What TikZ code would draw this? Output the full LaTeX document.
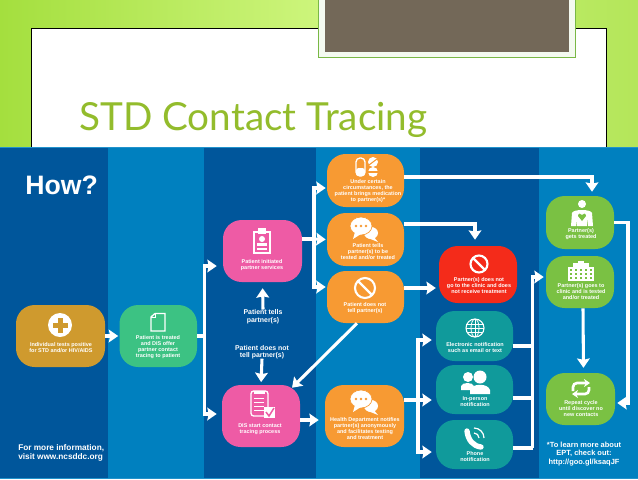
\documentclass[tikz,border=0pt]{standalone}
\usepackage{fontspec}
\usetikzlibrary{arrows.meta,calc}
\setmainfont{Liberation Sans}
\newfontfamily\titlefont{Lato}
\definecolor{title}{HTML}{93BC2C}
\definecolor{brown}{HTML}{736858}
\definecolor{deep}{HTML}{00569B}
\definecolor{sky}{HTML}{0080BF}
\definecolor{gold}{HTML}{CF9A2E}
\definecolor{mint}{HTML}{3CC283}
\definecolor{pink}{HTML}{EE5BA5}
\definecolor{amber}{HTML}{F79A33}
\definecolor{alarm}{HTML}{F42B1A}
\definecolor{teal}{HTML}{109A9B}
\definecolor{leaf}{HTML}{7AC143}
\definecolor{limea}{HTML}{A4DF3E}
\definecolor{limeb}{HTML}{CDF57C}
\definecolor{limec}{HTML}{B4E65A}
\newcommand{\fine}{\fontsize{4.1}{4.5}\selectfont\bfseries}
\newcommand{\midsize}{\fontsize{5.2}{6}\selectfont\bfseries}
\tikzset{
  boxsize/.style 2 args={minimum width=#1*0.75pt,minimum height=#2*0.75pt},
  stepbox/.style={rounded corners=14pt,inner sep=0,draw=none},
  txt/.style={inner sep=0,text=white,align=center,font=\fine},
  say/.style={inner sep=0,text=white,align=center,font=\midsize},
  flow/.style={white,line width=2.3pt},
  arrow/.style={flow,-{Stealth[length=7pt,width=9.5pt,inset=1pt]}},
  icon/.style={white,line width=1pt}
}
\newcommand{\nosign}[2]{\draw[white,line width=1.6pt] (#1) circle (#2); \draw[white,line width=1.6pt] ($(#1)+(-.7*#2,-.7*#2)$) -- ($(#1)+(.7*#2,.7*#2)$);}
\newcommand{\bubbles}[2]{\begin{scope}[shift={(#1)}]
\fill[white] (7,5) ellipse (7 and 6); \fill[white] (9,8) -- (14,14) -- (4,10) -- cycle;
\fill[white,draw=#2,line width=.5pt] (-3,-2) ellipse (11 and 9);
\fill[white] (-9,4) -- (-11,11) -- (-3,6) -- cycle;
\fill[#2] (-8,-2) circle (1.4); \fill[#2] (-3,-2) circle (1.4); \fill[#2] (2,-2) circle (1.4);
\end{scope}}
\begin{document}
\begin{tikzpicture}[x=0.75pt,y=-0.75pt]
\useasboundingbox (0,0) rectangle (638,479);
\shade[left color=limea,right color=limec,middle color=limeb] (0,0) rectangle (638,150);
\draw[black,fill=white,line width=0.8pt] (31.5,28.5) rectangle (606.5,150);
\draw[leaf!90!brown,fill=white!92!leaf,line width=0.6pt] (318.5,-2) rectangle (575.5,57.5);
\fill[brown] (324.5,-2) rectangle (569,51.5);
\node[anchor=base west,inner sep=0,text=title,font=\titlefont\fontsize{29}{29}\selectfont] (heading) at (79,130) {STD Contact Tracing};
\fill[deep] (0,147) rectangle (638,479);
\fill[sky] (108,147) rectangle (203.5,479);
\fill[sky] (316,147) rectangle (420,479);
\fill[sky] (539,147) rectangle (638,479);
\fill[cyan!50!sky] (0,146.5) rectangle (638,148);
\fill[cyan!50!sky] (0,477.5) rectangle (638,479);
\node[anchor=base west,inner sep=0,text=white,font=\fontsize{20}{20}\selectfont\bfseries] (how) at (25,194.5) {How?};
\node[say,align=left,anchor=north west,font=\fontsize{6.2}{7}\selectfont\bfseries] (info) at (18,444) {For more information,\\ visit www.ncsddc.org};
\node[say,font=\fontsize{5.6}{6.6}\selectfont\bfseries] (ept) at (584,454) {*To learn more about\\EPT, check out:\\http://goo.gl/ksaqJF};

\node[stepbox,fill=gold,boxsize={89}{62}] (positive) at (60.5,336) {};
\node[stepbox,fill=mint,boxsize={77.5}{62}] (treated) at (158.25,336) {};
\node[stepbox,fill=pink,boxsize={79}{62}] (initiated) at (262.5,251) {};
\node[stepbox,fill=pink,boxsize={78}{62}] (tracing) at (261,416) {};
\node[stepbox,fill=amber,boxsize={77}{53}] (brings) at (365.5,180.5) {};
\node[stepbox,fill=amber,boxsize={77}{53}] (tells) at (365.5,239.5) {};
\node[stepbox,fill=amber,boxsize={77}{52}] (silent) at (365.5,297) {};
\node[stepbox,fill=amber,boxsize={79}{62}] (notifies) at (364.5,416) {};
\node[stepbox,fill=alarm,boxsize={78}{57}] (refuses) at (478,274.5) {};
\node[stepbox,fill=teal,boxsize={77}{50}] (electronic) at (474.5,336) {};
\node[stepbox,fill=teal,boxsize={77}{49}] (person) at (474.5,389.5) {};
\node[stepbox,fill=teal,boxsize={77}{49}] (phone) at (474.5,444.5) {};
\node[stepbox,fill=leaf,boxsize={68}{53}] (gets) at (580,222.5) {};
\node[stepbox,fill=leaf,boxsize={68}{52}] (clinic) at (580,282) {};
\node[stepbox,fill=leaf,boxsize={69}{52}] (repeat) at (580.5,399) {};

\node[txt] (positivetxt) at (61,347.5) {Individual tests positive\\for STD and/or HIV/AIDS};
\node[txt] (treatedtxt) at (158,347) {Patient is treated\\and DIS offer\\partner contact\\tracing to patient};
\node[txt] (initiatedtxt) at (262,265) {Patient initiated\\partner services};
\node[txt] (tracingtxt) at (260,429) {DIS start contact\\tracing process};
\node[txt] (bringstxt) at (368,191) {Under certain\\circumstances, the\\patient brings medication\\to partner(s)*};
\node[txt] (tellstxt) at (368,252) {Patient tells\\partner(s) to be\\tested and/or treated};
\node[txt] (silenttxt) at (365,308) {Patient does not\\tell partner(s)};
\node[txt] (notifiestxt) at (365,429) {Health Department notifies\\partner(s) anonymously\\and facilitates testing\\and treatment};
\node[txt] (refusestxt) at (479,286) {Partner(s) does not\\go to the clinic and does\\not receive treatment};
\node[txt] (electronictxt) at (475,348) {Electronic notification\\such as email or text};
\node[txt] (persontxt) at (475,402) {In-person\\notification};
\node[txt] (phonetxt) at (475,457) {Phone\\notification};
\node[txt] (getstxt) at (581,234) {Partner(s)\\gets treated};
\node[txt] (clinictxt) at (581,292) {Partner(s) goes to\\clinic and is tested\\and/or treated};
\node[txt] (repeattxt) at (581,409) {Repeat cycle\\until discover no\\new contacts};
\node[say] (toldyes) at (263,317) {Patient tells\\partner(s)};
\node[say,font=\fontsize{5.2}{4.8}\selectfont\bfseries] (toldno) at (262,352) {Patient does not\\tell partner(s)};

\coordinate (busleft) at (204.5,336);
\coordinate (busmid) at (314,239);
\coordinate (busright) at (418,400);
\coordinate (busteal) at (532.5,448);
\coordinate (busfar) at (628,222.5);
\draw[arrow,shorten >=0.8pt] (positive.east) -- (treated.west);
\draw[flow] (treated.east) -- (busleft);
\draw[arrow,shorten >=4.5pt] (busleft) |- ($(initiated.west)+(0,15)$);
\draw[arrow,shorten >=3.8pt] (busleft) |- ($(tracing.west)+(0,-2)$);
\draw[flow] ($(initiated.east)+(0,-12)$) -- (busmid);
\draw[arrow,shorten >=0.8pt] (busmid) |- ($(brings.west)+(0,7.5)$);
\draw[arrow,shorten >=0.8pt] (busmid) -- (tells.west);
\draw[arrow,shorten >=0.8pt] (busmid) |- ($(silent.west)+(0,-10)$);
\draw[arrow,shorten >=3pt] ($(brings.east)+(0,-3.5)$) -| ($(gets.north)+(12,0)$);
\draw[arrow,shorten >=4.5pt] ($(tells.east)+(0,-15.5)$) -| ($(refuses.north)+(-3,0)$);
\draw[arrow,shorten >=2.2pt] ($(silent.east)+(0,-9)$) -- ($(refuses.west)+(0,13.5)$);
\draw[arrow] ($(silent.south)+(-8.5,0)$) -- ($(tracing.north)+(31,3)$);
\draw[arrow,shorten >=4.5pt] (toldyes.north) -- (initiated.south);
\draw[arrow,shorten >=2pt] (toldno.south) -- (tracing.north);
\draw[arrow,shorten >=4.5pt] ($(tracing.east)+(0,4)$) -- ($(notifies.west)+(0,4)$);
\draw[flow] ($(notifies.east)+(0,-16)$) -- (busright);
\draw[arrow,shorten >=3pt] (busright) |- ($(electronic.west)+(0,4)$);
\draw[arrow,shorten >=3pt] (busright) -- ($(person.west)+(0,10.5)$);
\draw[arrow,shorten >=3pt] (busright) |- ($(phone.west)+(0,7.5)$);
\draw[flow] ($(electronic.east)+(0,10)$) -- ($(electronic.east)+(19.5,10)$);
\draw[flow] ($(person.east)+(0,8.5)$) -- ($(person.east)+(19.5,8.5)$);
\draw[flow] ($(phone.east)+(0,3.5)$) -- (busteal);
\draw[arrow,shorten >=1.5pt] (busteal) |- ($(clinic.west)+(0,-5)$);
\draw[arrow,shorten >=1.5pt] (gets.east) -- (busfar) |- ($(repeat.east)+(0,4)$);
\draw[arrow,shorten >=3.7pt] ($(clinic.south)+(3,0)$) -- ($(repeat.north)+(3,0)$);

\fill[white] (60,325) circle (12);
\fill[gold] (57.5,317.5) rectangle (62.5,332.5);
\fill[gold] (52.5,322.5) rectangle (67.5,327.5);

\draw[icon] (151,317) -- (155,313.5) -- (165,313.5) -- (165,331) -- (151,331) -- cycle;
\draw[icon,line width=.6pt] (151,317) -- (155,317) -- (155,313.5);

\begin{scope}[shift={(262,241)}]
\draw[icon] (-8,-9) rectangle (8,12);
\fill[white] (-4,-13) rectangle (4,-7);
\fill[white] (0,-2) circle (3);
\fill[white] (-5,2) rectangle (5,5);
\fill[white] (-5,6.5) rectangle (5,9);
\end{scope}

\begin{scope}[shift={(261,405)}]
\draw[icon,rounded corners=2pt] (-10,-14) rectangle (7,11);
\fill[white] (-7,-14) rectangle (4,-11);
\foreach \yy in {-7,-3,1,5} \draw[white,line width=.6pt] (-7,\yy) -- (3,\yy);
\fill[white] (3,2) rectangle (14,13);
\draw[pink,line width=1.1pt] (5,7) -- (8,11) -- (13,3);
\end{scope}

\begin{scope}[shift={(368,167)}]
\draw[icon,rounded corners=3pt] (-12,-9) rectangle (-3,9);
\fill[white,rounded corners=2pt] (-12,1) rectangle (-3,9);
\fill[white] (5,-5) circle (5);
\fill[white] (5,5) circle (5);
\draw[amber,line width=.8pt] (1,-2) -- (9,-8);
\draw[amber,line width=.8pt] (0,5) -- (10,5);
\end{scope}

\bubbles{364,228}{amber}
\bubbles{364,401}{amber}
\nosign{365,288}{10}
\nosign{479,264}{8.5}

\begin{scope}[shift={(475,328)}]
\draw[icon,line width=.8pt] (0,0) circle (9);
\draw[icon,line width=.6pt] (0,0) ellipse (4 and 9);
\draw[icon,line width=.6pt] (0,-9) -- (0,9);
\draw[icon,line width=.6pt] (-9,0) -- (9,0);
\draw[icon,line width=.6pt] (-8,-4) -- (8,-4);
\draw[icon,line width=.6pt] (-8,4) -- (8,4);
\end{scope}

\begin{scope}[shift={(476,383)}]
\fill[white] (-8,-6) circle (5);
\fill[white] (-15,7) -- (-15,3) .. controls (-14,-1) and (-3,-1) .. (-2,3) -- (-5,7) -- cycle;
\fill[white] (4,-6) circle (6.5);
\fill[white] (-6,11) -- (-6,7) .. controls (-4,0) and (12,0) .. (14,7) -- (14,11) -- cycle;
\end{scope}

\begin{scope}[shift={(474,438)}]
\draw[white,line width=4pt,line cap=round] (-7,-7) .. controls (-6,2) and (-1,8) .. (7,9);
\draw[icon,line width=.9pt] (0,-5) arc (-90:0:5);
\draw[icon,line width=.9pt] (0,-10) arc (-90:0:10);
\end{scope}

\begin{scope}[shift={(582,215)}]
\fill[white] (0,-11) circle (4);
\fill[white] (-11,11) -- (-10,-2) .. controls (-9,-6) and (9,-6) .. (10,-2) -- (11,11) -- (6,11) -- (6,3) -- (5,11) -- (-5,11) -- (-6,3) -- (-6,11) -- cycle;
\fill[leaf] (0,6) -- (-4,1) .. controls (-4,-2) and (-1,-2) .. (0,0) .. controls (1,-2) and (4,-2) .. (4,1) -- cycle;
\end{scope}

\begin{scope}[shift={(581,271)}]
\fill[white] (-8,-8) rectangle (8,10);
\fill[white] (-13,-4) rectangle (13,10);
\fill[white] (-3,-10) rectangle (3,-8);
\foreach \xx in {-11,-6,-1,4,9} \foreach \yy in {-2,2,6} \fill[leaf] (\xx,\yy) rectangle +(2,2);
\end{scope}

\begin{scope}[shift={(581,388)}]
\draw[white,line width=2pt,-{Stealth[length=4.5pt,width=6pt]},rounded corners=3pt] (-8,3) -- (-8,-5) -- (9,-5);
\draw[white,line width=2pt,-{Stealth[length=4.5pt,width=6pt]},rounded corners=3pt] (8,-1) -- (8,6) -- (-9,6);
\end{scope}
\end{tikzpicture}
\end{document}
